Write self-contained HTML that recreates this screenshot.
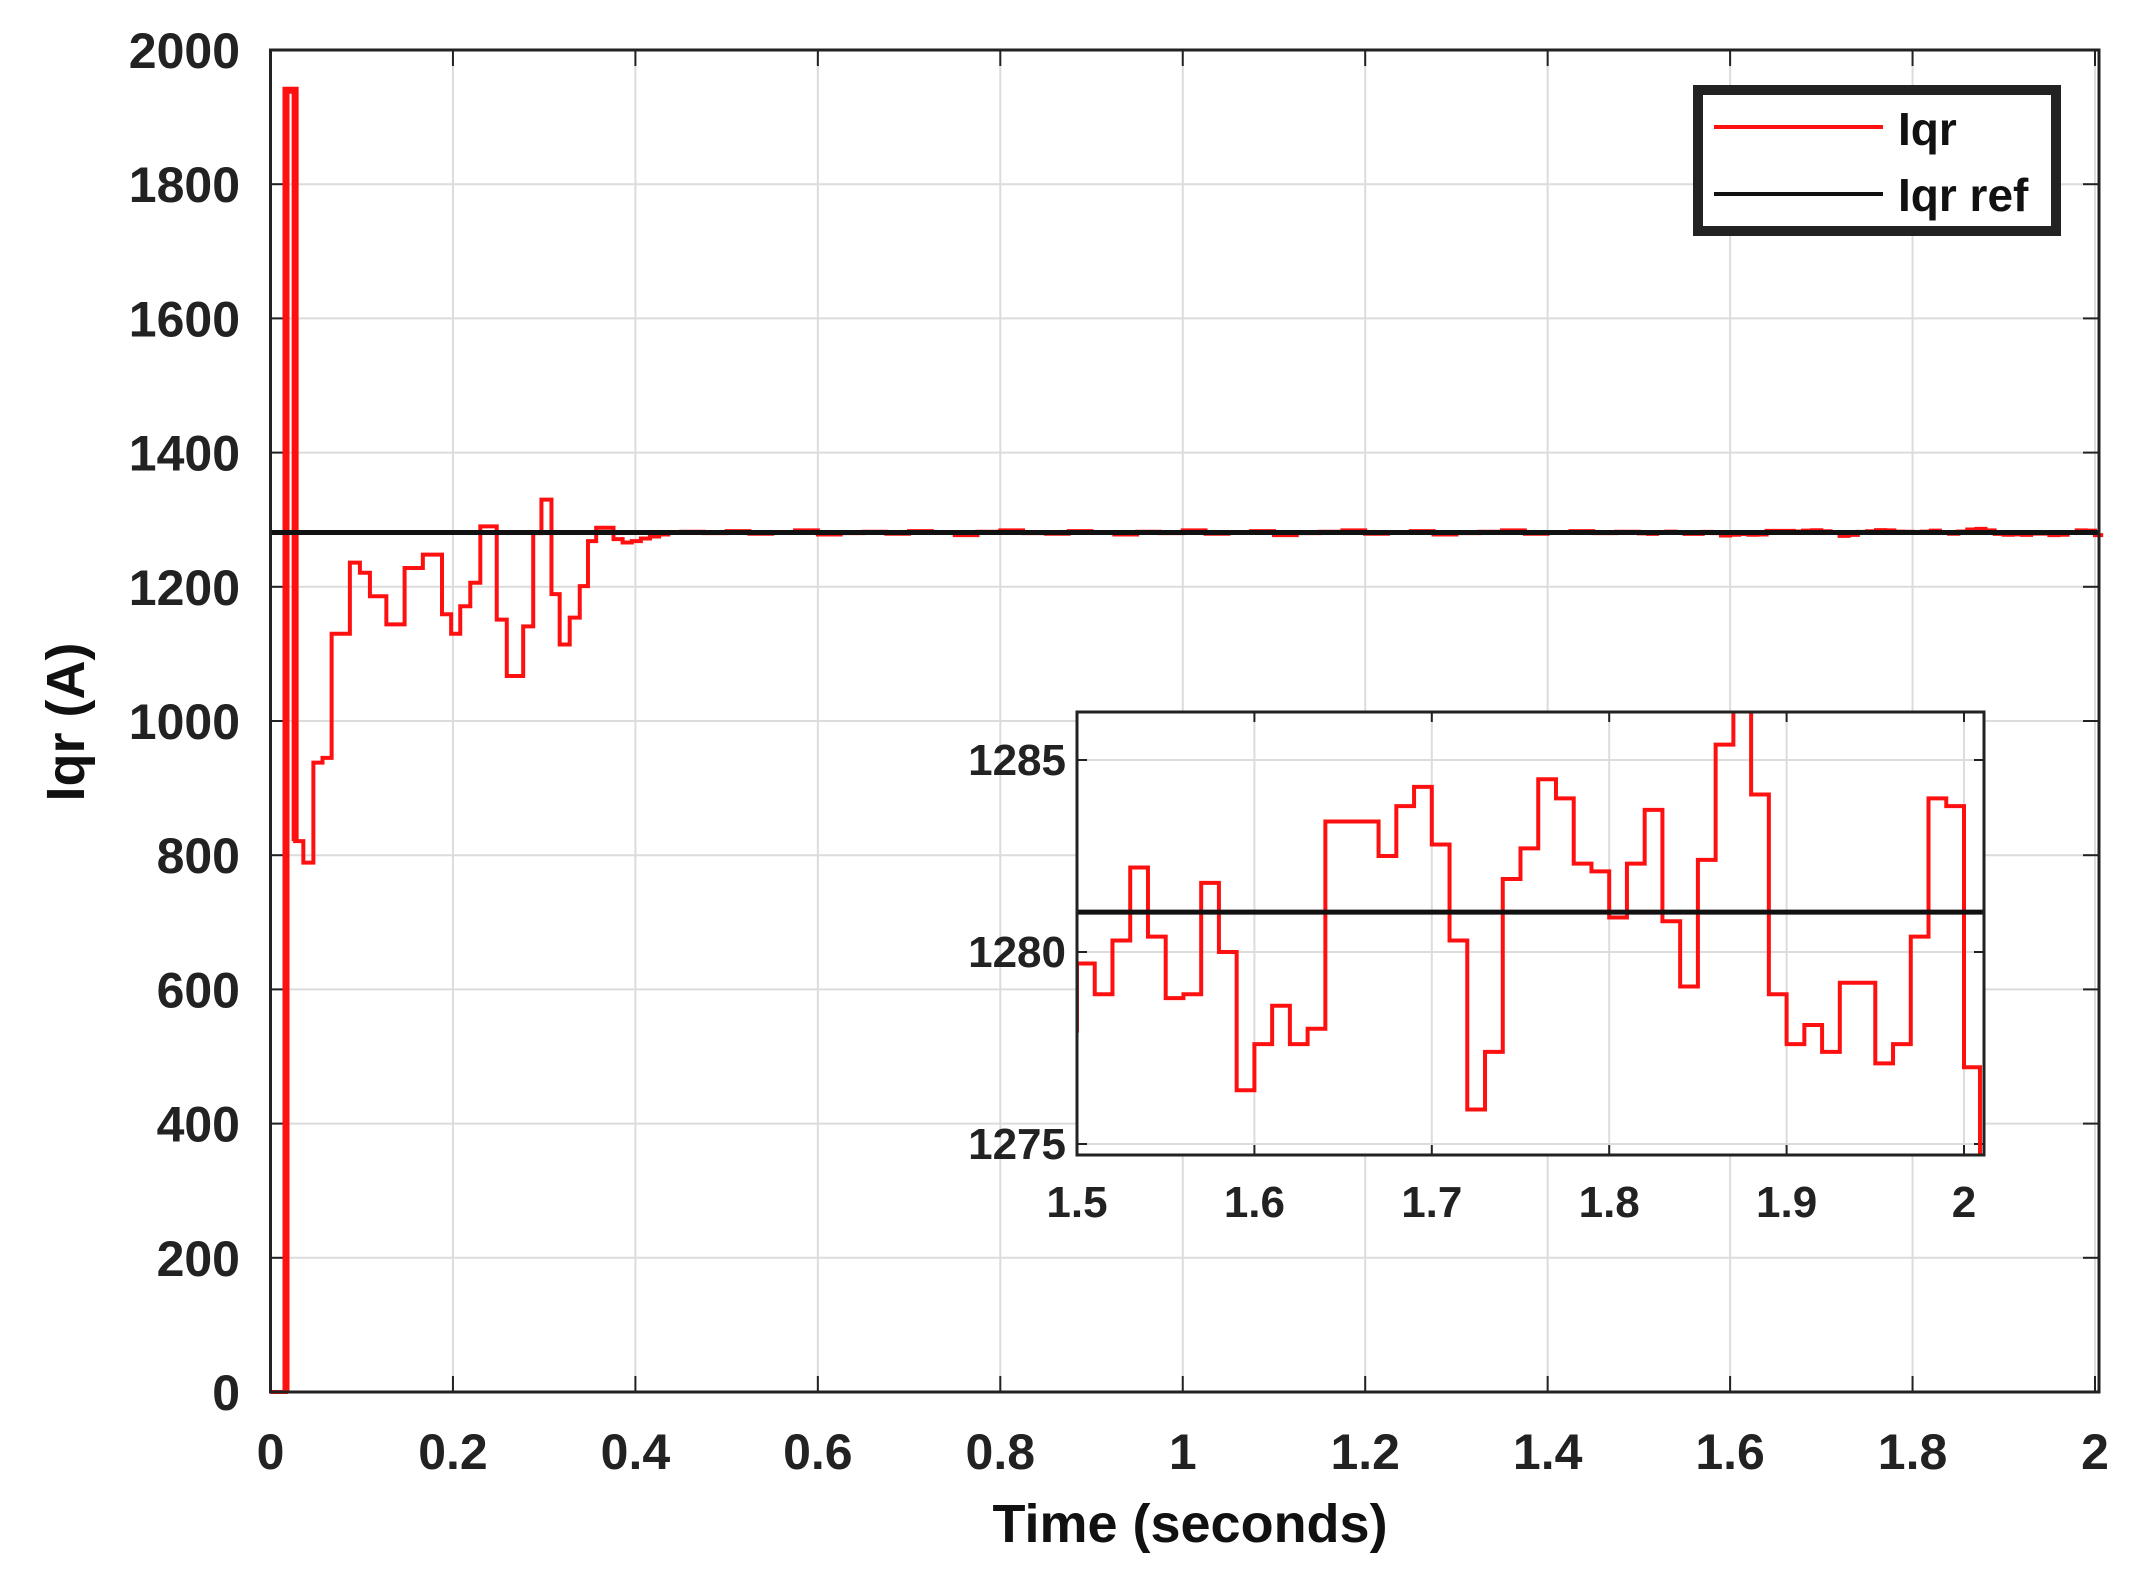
<!DOCTYPE html>
<html><head><meta charset="utf-8"><style>
html,body{margin:0;padding:0;background:#fff;}
svg{display:block;font-family:"Liberation Sans",Arial,sans-serif;}
</style></head><body>
<svg id="chart" width="2139" height="1586" viewBox="0 0 2139 1586"></svg>
<script>
// ---- main chart data ----
const xTicks = [0,0.2,0.4,0.6,0.8,1,1.2,1.4,1.6,1.8,2];
const xTickLabels = ["0","0.2","0.4","0.6","0.8","1","1.2","1.4","1.6","1.8","2"];
const yTicks = [0,200,400,600,800,1000,1200,1400,1600,1800,2000];
const yTickLabels = ["0","200","400","600","800","1000","1200","1400","1600","1800","2000"];
const iqrRef = 1281;
// transient: step change times and values
const transientTimes = [0,0.017,0.027,0.036,0.047,0.057,0.067,0.087,0.098,0.109,0.127,0.147,0.167,0.188,0.198,0.208,0.219,0.230,0.248,0.259,0.277,0.288,0.297,0.308,0.317,0.328,0.339,0.348,0.357,0.376,0.386,0.396,0.406,0.416,0.426,0.436];
const transientValues = [0,1940,821,789,938,945,1130,1236,1221,1186,1144,1228,1248,1159,1130,1171,1206,1290,1151,1067,1141,1280,1330,1189,1114,1154,1201,1268,1288,1271,1266,1268,1272,1275,1278,1281];
// steady state samples from 0.45 to 1.49, every 0.025 s
const steadyStart = 0.45;
const steadyStep = 0.025;
const steadyValues = [1282,1280,1283,1279,1281,1284,1278,1280,1282,1279,1283,1281,1277,1282,1284,1280,1279,1283,1281,1278,1282,1280,1284,1279,1281,1283,1277,1280,1282,1284,1279,1281,1283,1278,1280,1282,1284,1279,1281,1283,1280,1282];
// inset / 1.5-2.0 data, sample period 0.01
const insetStart = 1.5;
const insetStep = 0.01;
const insetValues = [1279.7,1278.9,1280.3,1282.2,1280.4,1278.8,1278.9,1281.8,1280.0,1276.4,1277.6,1278.6,1277.6,1278.0,1283.4,1283.4,1283.4,1282.5,1283.8,1284.3,1282.8,1280.3,1275.9,1277.4,1281.9,1282.7,1284.5,1284.0,1282.3,1282.1,1280.9,1282.3,1283.7,1280.8,1279.1,1282.4,1285.4,1286.3,1284.1,1278.9,1277.6,1278.1,1277.4,1279.2,1279.2,1277.1,1277.6,1280.4,1284.0,1283.8,1277.0];
const insetEndValue = 1274;
const insetXTicks = [1.5,1.6,1.7,1.8,1.9,2];
const insetXTickLabels = ["1.5","1.6","1.7","1.8","1.9","2"];
const insetYTicks = [1275,1280,1285];
const insetYTickLabels = ["1275","1280","1285"];
const insetRef = 1281.04;

const NS="http://www.w3.org/2000/svg";
const svg=document.getElementById('chart');
function mk(tag,attrs,parent){const e=document.createElementNS(NS,tag);for(const k in attrs)e.setAttribute(k,attrs[k]);(parent||svg).appendChild(e);return e;}

const L=270.5,R=2099,T=50,B=1392;
const xS=t=>L+t*(2095-L)/2;
const yS=v=>B-v*(B-T)/2000;

const series=[];
for(let i=0;i<transientTimes.length;i++)series.push([transientTimes[i],transientValues[i]]);
for(let i=0;i<steadyValues.length;i++)series.push([steadyStart+i*steadyStep,steadyValues[i]]);
for(let i=0;i<insetValues.length;i++)series.push([insetStart+i*insetStep,insetValues[i]]);
const seriesEnd=2.009;
function stepPath(xf,yf,tmin,tmax){
  let d='';let started=false;
  for(let i=0;i<series.length;i++){
    const t0=series[i][0],v=series[i][1];
    const t1=i+1<series.length?series[i+1][0]:seriesEnd;
    if(t1<tmin||t0>tmax)continue;
    const a=Math.max(t0,tmin),b=Math.min(t1,tmax);
    if(!started){d+='M'+xf(a)+','+yf(v);started=true;}else d+='L'+xf(a)+','+yf(v);
    d+='L'+xf(b)+','+yf(v);
  }
  return d;
}

const grid=mk('g',{});


xTicks.forEach(t=>{mk('line',{x1:xS(t),x2:xS(t),y1:T,y2:B,stroke:'#dcdcdc','stroke-width':2},grid);});
yTicks.forEach(v=>{mk('line',{x1:L,x2:R,y1:yS(v),y2:yS(v),stroke:'#dcdcdc','stroke-width':2},grid);});

xTicks.forEach(t=>{mk('line',{x1:xS(t),x2:xS(t),y1:B,y2:B-16,stroke:'#222','stroke-width':2});mk('line',{x1:xS(t),x2:xS(t),y1:T,y2:T+16,stroke:'#222','stroke-width':2});});
yTicks.forEach(v=>{mk('line',{x1:L,x2:L+16,y1:yS(v),y2:yS(v),stroke:'#222','stroke-width':2});mk('line',{x1:R,x2:R-16,y1:yS(v),y2:yS(v),stroke:'#222','stroke-width':2});});

const main=mk('path',{d:stepPath(xS,yS,0,seriesEnd),fill:'none',stroke:'#ff1010','stroke-width':4,'stroke-linejoin':'miter'});


// thicken initial spike like the reference
const spike=mk('path',{d:stepPath(xS,yS,transientTimes[1],transientTimes[2]),fill:'none',stroke:'#ff1010','stroke-width':7});


const ref=mk('line',{x1:L,x2:R,y1:yS(iqrRef),y2:yS(iqrRef),stroke:'#111','stroke-width':5});



const frame=mk('rect',{x:L,y:T,width:R-L,height:B-T,fill:'none',stroke:'#222','stroke-width':3});



xTicks.forEach((t,i)=>{const e=mk('text',{x:xS(t),y:1469,'text-anchor':'middle','font-size':50,'font-weight':'bold',fill:'#222'});e.textContent=xTickLabels[i];

});
yTicks.forEach((v,i)=>{const e=mk('text',{x:240,y:yS(v)+18,'text-anchor':'end','font-size':50,'font-weight':'bold',fill:'#222'});e.textContent=yTickLabels[i];

});

const xt=mk('text',{x:1190,y:1542,'text-anchor':'middle','font-size':54,'font-weight':'bold',fill:'#111'});xt.textContent='Time (seconds)';


const yt=mk('text',{x:0,y:0,'text-anchor':'middle','font-size':54,'font-weight':'bold',fill:'#111',transform:'translate(84,722) rotate(-90)'});yt.textContent='Iqr (A)';



const lg=mk('g',{});


mk('rect',{x:1698,y:90,width:358,height:141,fill:'#fff',stroke:'#222','stroke-width':10},lg);
mk('line',{x1:1714,x2:1883,y1:127,y2:127,stroke:'#ff1010','stroke-width':4},lg);
mk('line',{x1:1714,x2:1883,y1:194,y2:194,stroke:'#111','stroke-width':4},lg);
const l1=mk('text',{x:1898,y:145,'font-size':46,'font-weight':'bold',fill:'#111'},lg);l1.textContent='Iqr';


const l2=mk('text',{x:1898,y:211,'font-size':46,'font-weight':'bold',fill:'#111'},lg);l2.textContent='Iqr ref';



const iL=1077,iR=1984,iT=712,iB=1155;
const ixS=t=>iL+(t-1.5)*(1964-1077)/0.5;
const iyS=v=>952-(v-1280)*38.4;
const ig=mk('g',{});


mk('rect',{x:iL,y:iT,width:iR-iL,height:iB-iT,fill:'#fff'},ig);
insetXTicks.forEach(t=>{mk('line',{x1:ixS(t),x2:ixS(t),y1:iT,y2:iB,stroke:'#dcdcdc','stroke-width':2},ig);});
insetYTicks.forEach(v=>{mk('line',{x1:iL,x2:iR,y1:iyS(v),y2:iyS(v),stroke:'#dcdcdc','stroke-width':2},ig);});
insetXTicks.forEach(t=>{mk('line',{x1:ixS(t),x2:ixS(t),y1:iB,y2:iB-10,stroke:'#222','stroke-width':2},ig);mk('line',{x1:ixS(t),x2:ixS(t),y1:iT,y2:iT+10,stroke:'#222','stroke-width':2},ig);});
insetYTicks.forEach(v=>{mk('line',{x1:iL,x2:iL+10,y1:iyS(v),y2:iyS(v),stroke:'#222','stroke-width':2},ig);mk('line',{x1:iR,x2:iR-10,y1:iyS(v),y2:iyS(v),stroke:'#222','stroke-width':2},ig);});
mk('clipPath',{id:'ic'},ig);
mk('rect',{x:iL,y:iT,width:iR-iL+4,height:iB-iT},document.getElementById('ic'));
let idp='M'+ixS(insetStart)+','+iyS(1277.9);
for(let i=0;i<insetValues.length;i++){const t0=insetStart+i*insetStep;const t1=i+1<insetValues.length?t0+insetStep:seriesEnd;idp+='L'+ixS(t0)+','+iyS(insetValues[i])+'L'+ixS(t1)+','+iyS(insetValues[i]);}
idp+='L'+ixS(seriesEnd)+','+iyS(insetEndValue);
const ip=mk('path',{d:idp,fill:'none',stroke:'#ff1010','stroke-width':4,'clip-path':'url(#ic)'},ig);


const ir=mk('line',{x1:iL,x2:iR,y1:iyS(insetRef),y2:iyS(insetRef),stroke:'#111','stroke-width':5},ig);


mk('rect',{x:iL,y:iT,width:iR-iL,height:iB-iT,fill:'none',stroke:'#222','stroke-width':3},ig);
insetXTicks.forEach((t,i)=>{const e=mk('text',{x:ixS(t),y:1217,'text-anchor':'middle','font-size':44,'font-weight':'bold',fill:'#222'},ig);e.textContent=insetXTickLabels[i];

});
insetYTicks.forEach((v,i)=>{const e=mk('text',{x:1066,y:iyS(v)+15,'text-anchor':'end','font-size':44,'font-weight':'bold',fill:'#222'},ig);e.textContent=insetYTickLabels[i];

});
</script>
</body></html>
